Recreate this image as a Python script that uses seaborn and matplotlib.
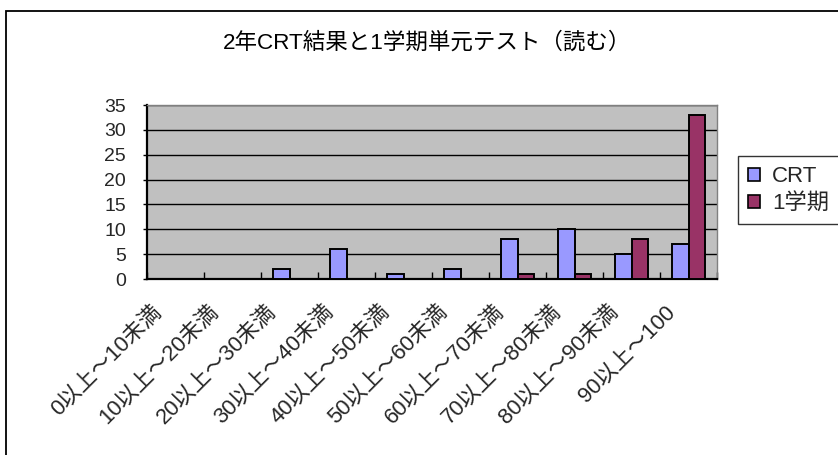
import matplotlib
matplotlib.use("Agg")
import matplotlib.pyplot as plt
from matplotlib.patches import Rectangle, Patch
from matplotlib.transforms import ScaledTranslation
import seaborn as sns
import pandas as pd
import numpy as np

categories = ["0以上～10未満", "10以上～20未満", "20以上～30未満", "30以上～40未満",
              "40以上～50未満", "50以上～60未満", "60以上～70未満", "70以上～80未満",
              "80以上～90未満", "90以上～100"]
crt = [0, 0, 2, 6, 1, 2, 8, 10, 5, 7]
term1 = [0, 0, 0, 0, 0, 0, 1, 1, 8, 33]
series_names = ["CRT", "1学期"]
yticks = [0, 5, 10, 15, 20, 25, 30, 35]
title = "2年CRT結果と1学期単元テスト（読む）"

colors = {"CRT": "#9999FF", "1学期": "#993366"}

sns.set_theme(style="white")
plt.rcParams["font.family"] = ["Liberation Sans", "Noto Sans CJK JP", "DejaVu Sans"]

df = pd.DataFrame({
    "range": categories * 2,
    "count": crt + term1,
    "series": [series_names[0]] * len(categories) + [series_names[1]] * len(categories),
})

W, H = 838, 455
fig = plt.figure(figsize=(W / 100, H / 100), dpi=100)
fig.patch.set_facecolor("white")
ax = fig.add_axes([147 / W, 1 - 279 / H, (717 - 147) / W, (279 - 105) / H])
ax.set_facecolor("#C0C0C0")

sns.barplot(data=df, x="range", y="count", hue="series", order=categories,
            hue_order=series_names, palette=colors, width=0.57, gap=0,
            edgecolor="black", linewidth=1.4, saturation=1, legend=False, ax=ax,
            zorder=3)

ax.set_xlim(-0.5, len(categories) - 0.5)
ax.set_ylim(0, 35)
ax.set_yticks(yticks)
ax.set_yticklabels([str(v) for v in yticks], fontsize=14)
ax.yaxis.grid(True, color="black", linewidth=1.0, zorder=1)
ax.set_axisbelow(True)
ax.set_xlabel("")
ax.set_ylabel("")

ax.set_xticks(np.arange(len(categories)))
ax.set_xticklabels(categories, rotation=45, ha="right", rotation_mode="anchor",
                   fontsize=15.8)
ax.tick_params(axis="x", which="major", length=0, pad=16)
shift = ScaledTranslation(-24 / 100, 0, fig.dpi_scale_trans)
for lbl in ax.get_xticklabels():
    lbl.set_transform(lbl.get_transform() + shift)
ax.set_xticks(np.arange(len(categories) + 1) - 0.5, minor=True)
ax.tick_params(axis="x", which="minor", direction="in", length=5, width=1,
               color="black", bottom=True)
ax.tick_params(axis="y", which="major", direction="out", length=3, width=1,
               color="black", left=True, pad=12)

for side in ("left", "bottom"):
    ax.spines[side].set_color("black")
    ax.spines[side].set_linewidth(1.6)
for side in ("top", "right"):
    ax.spines[side].set_color("#808080")
    ax.spines[side].set_linewidth(1.0)

handles = [Patch(facecolor=colors[s], edgecolor="black", linewidth=1.2) for s in series_names]
leg = fig.legend(handles, series_names, loc="upper left",
                 bbox_to_anchor=(738 / W, 1 - 156 / H), frameon=True,
                 fontsize=16, handlelength=0.54, handleheight=0.54,
                 handletextpad=0.55, borderpad=0.45, labelspacing=0.28,
                 borderaxespad=0, fancybox=False)
leg.get_frame().set_edgecolor("black")
leg.get_frame().set_linewidth(1.0)

fig.text(427 / W, 1 - 43 / H, title, ha="center", va="center", fontsize=16.2,
         color="black")

fig.patches.append(Rectangle((6 / W, -0.05), 1.2, 1 - 11 / H + 0.05,
                             transform=fig.transFigure, fill=False,
                             edgecolor="black", linewidth=1.3, zorder=0))

fig.savefig("out.png", dpi=100)
